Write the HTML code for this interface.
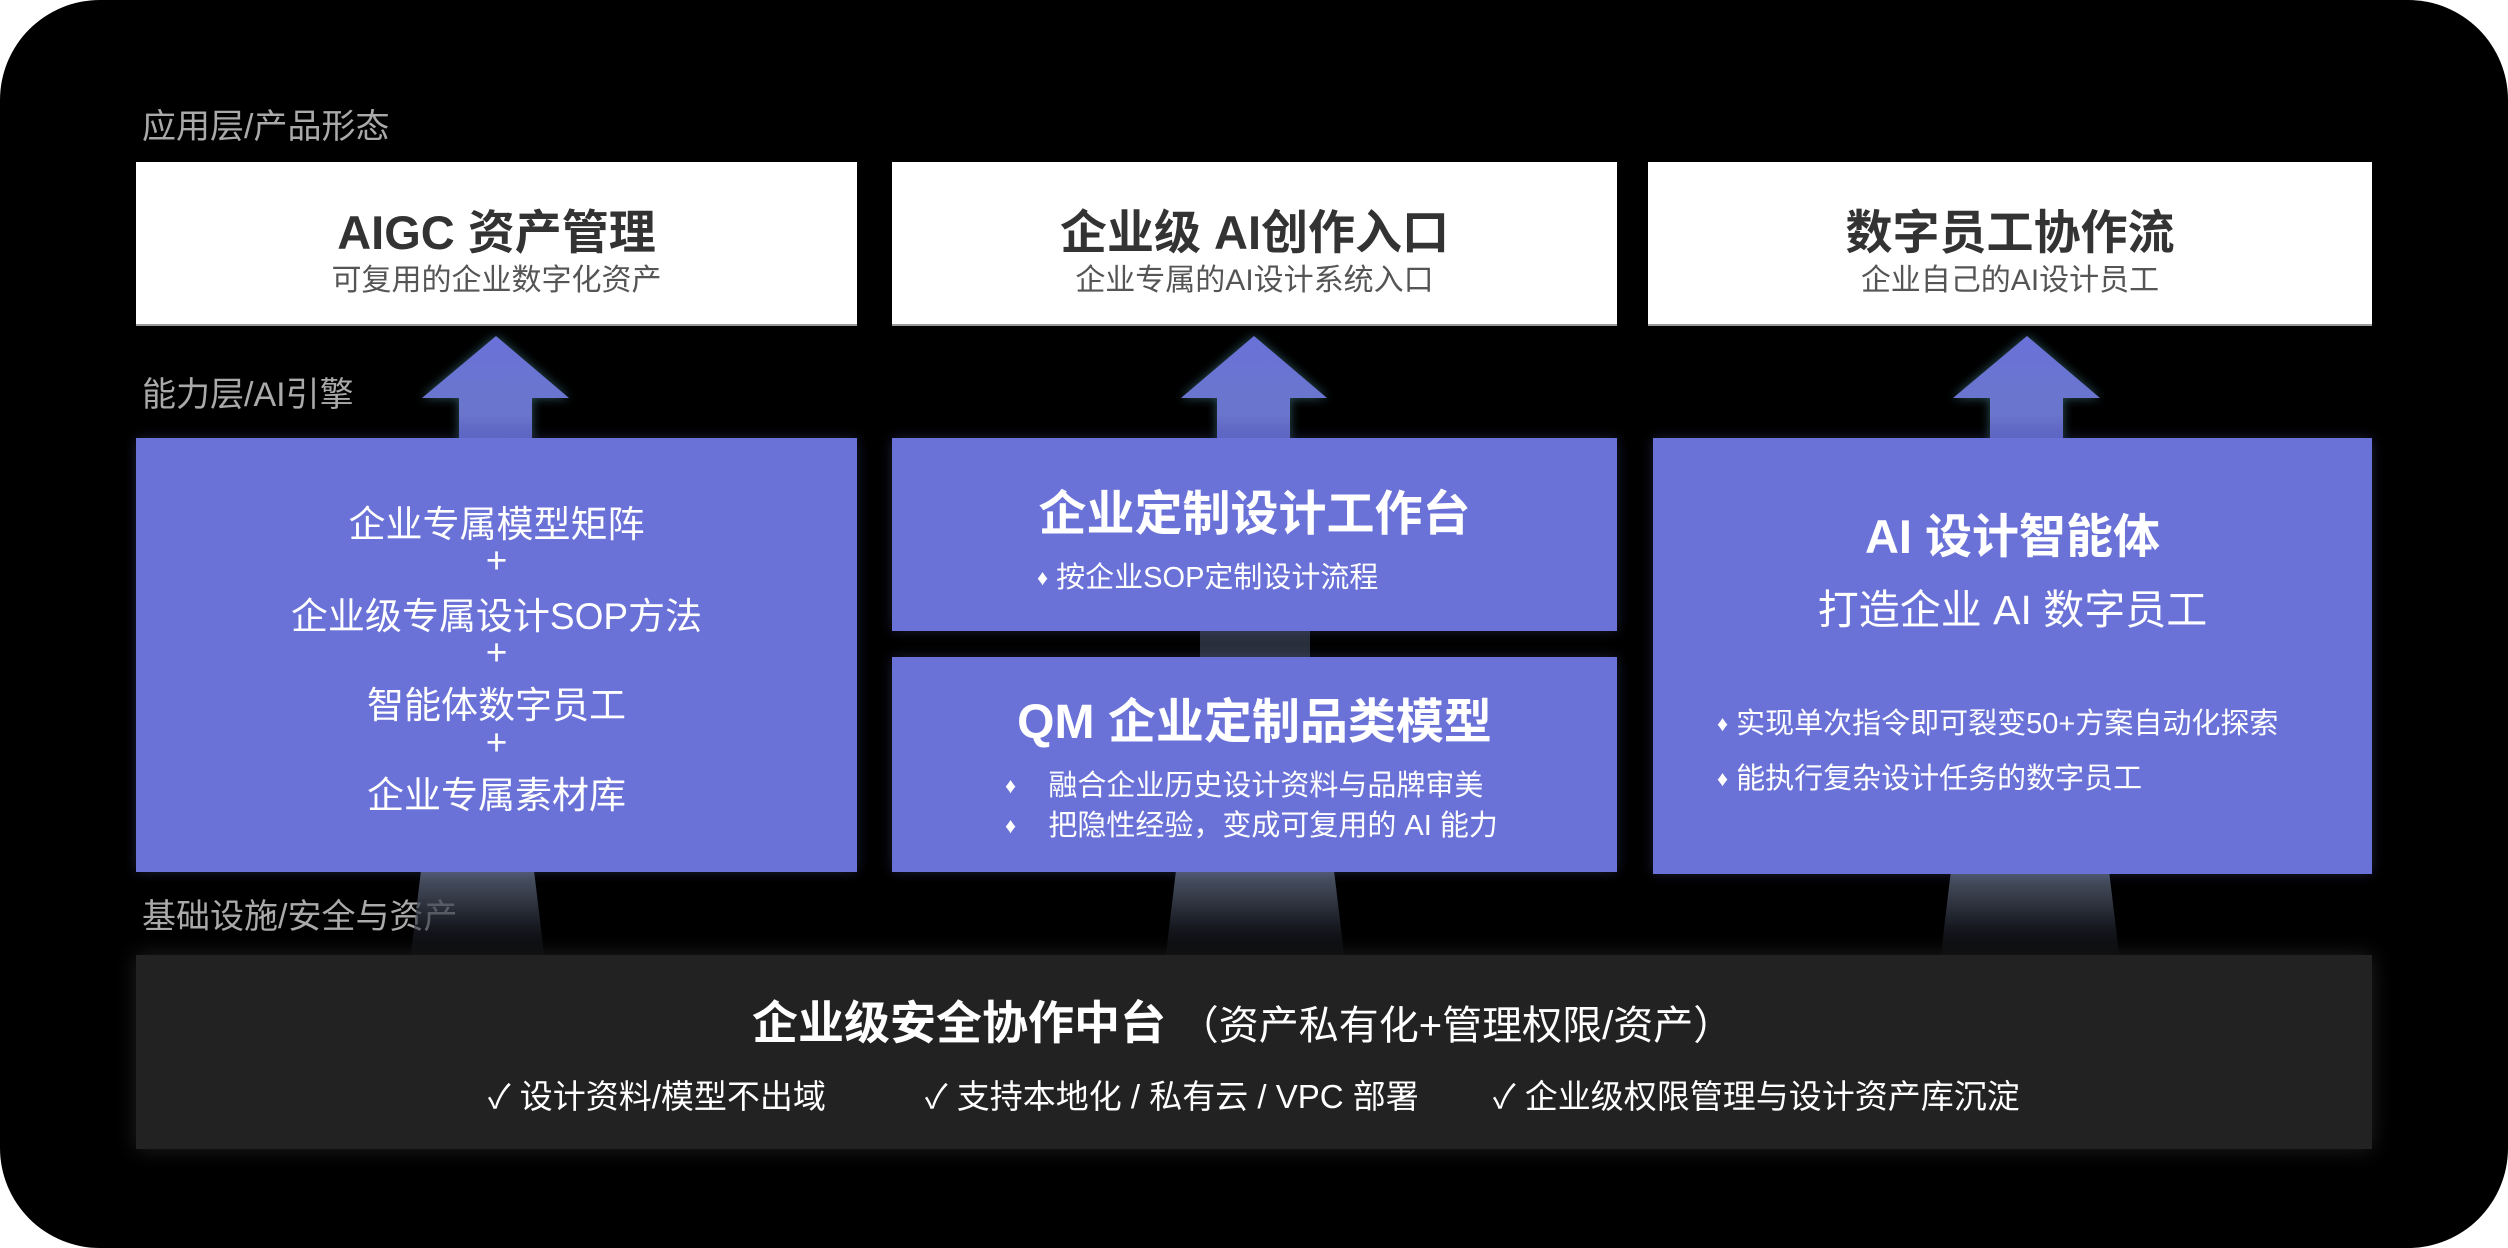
<!DOCTYPE html>
<html><head><meta charset="utf-8"><style>
*{margin:0;padding:0;box-sizing:border-box}
html,body{width:2508px;height:1248px;background:#fff;overflow:hidden}
body{font-family:"Liberation Sans","Noto Sans CJK SC",sans-serif}
#card{position:absolute;left:0;top:0;width:2508px;height:1248px;background:#000;border-radius:100px;overflow:hidden}
.a{position:absolute}
.lbl{position:absolute;left:142px;font-size:34px;color:#aaa;line-height:38px;white-space:nowrap}
.wb{position:absolute;top:162px;height:164px;background:#fff;border-bottom:2px solid #999}
.wt{position:absolute;left:0;right:0;text-align:center;white-space:nowrap}
.pb{position:absolute;background:#6a72d8;box-shadow:0 0 12px rgba(106,114,216,0.25)}
.c{position:absolute;left:0;right:0;text-align:center;color:#fff;white-space:nowrap}
.t{position:absolute;color:#fff;white-space:nowrap}
.d{font-size:0.75em;vertical-align:0.1em}
.shaft{position:absolute;background:linear-gradient(#4d5668,rgba(40,44,55,0.6) 60%,rgba(0,0,0,0))}
</style></head><body>
<div id="card">
<div class="lbl" style="top:108px">应用层/产品形态</div>
<div class="lbl" style="top:376px">能力层/AI引擎</div>
<div class="lbl" style="top:898px">基础设施/安全与资产</div>

<div class="shaft" style="left:410px;top:872px;width:135px;height:90px;clip-path:polygon(8% 0,92% 0,100% 100%,0 100%)"></div>
<div class="shaft" style="left:1165px;top:872px;width:180px;height:90px;clip-path:polygon(6% 0,94% 0,100% 100%,0 100%)"></div>
<div class="shaft" style="left:1940px;top:872px;width:180px;height:90px;clip-path:polygon(6% 0,94% 0,100% 100%,0 100%)"></div>
<div class="a" style="left:1200px;top:630px;width:110px;height:28px;background:#2a2f3c"></div>

<svg class="a" style="left:0;top:0" width="2508" height="450">
<defs><linearGradient id="g" x1="0" y1="0" x2="0" y2="1"><stop offset="0" stop-color="#6a72d8"/><stop offset="0.75" stop-color="#6b75cc"/><stop offset="1" stop-color="#5a63c0"/></linearGradient>
<filter id="gl"><feDropShadow dx="0" dy="0" stdDeviation="5" flood-color="#4a8a9a" flood-opacity="0.6"/></filter></defs>
<g fill="url(#g)" filter="url(#gl)">
<polygon points="496,336 569,398 532,398 532,440 459,440 459,398 422,398"/>
<polygon points="1254,336 1327,398 1290,398 1290,440 1217,440 1217,398 1181,398"/>
<polygon points="2027,336 2100,398 2063,398 2063,440 1990,440 1990,398 1953,398"/>
</g></svg>

<div class="wb" style="left:136px;width:721px">
<div class="wt" style="top:32px;font-size:47px;font-weight:bold;color:#333">AIGC 资产管理</div>
<div class="wt" style="top:93px;font-size:30px;color:#555">可复用的企业数字化资产</div></div>
<div class="wb" style="left:892px;width:725px">
<div class="wt" style="top:32px;font-size:47px;font-weight:bold;color:#333">企业级 AI创作入口</div>
<div class="wt" style="top:93px;font-size:30px;color:#555">企业专属的AI设计系统入口</div></div>
<div class="wb" style="left:1648px;width:724px">
<div class="wt" style="top:32px;font-size:47px;font-weight:bold;color:#333">数字员工协作流</div>
<div class="wt" style="top:93px;font-size:30px;color:#555">企业自己的AI设计员工</div></div>

<div class="pb" style="left:136px;top:438px;width:721px;height:434px;font-size:37px">
<div class="c" style="top:56px">企业专属模型矩阵</div>
<div class="c" style="top:102px">+</div>
<div class="c" style="top:148px">企业级专属设计SOP方法</div>
<div class="c" style="top:194px">+</div>
<div class="c" style="top:237px">智能体数字员工</div>
<div class="c" style="top:284px">+</div>
<div class="c" style="top:327px">企业专属素材库</div>
</div>
<div class="pb" style="left:892px;top:438px;width:725px;height:193px">
<div class="c" style="top:36px;font-size:48px;font-weight:bold">企业定制设计工作台</div>
<div class="t" style="left:145px;top:116px;font-size:29px"><span class="d">♦</span> 按企业SOP定制设计流程</div>
</div>
<div class="pb" style="left:892px;top:657px;width:725px;height:215px">
<div class="c" style="top:25px;font-size:48px;font-weight:bold">QM 企业定制品类模型</div>
<div class="t" style="left:113px;top:105px;font-size:29px"><span class="d">♦</span>&nbsp;&nbsp;&nbsp; 融合企业历史设计资料与品牌审美</div>
<div class="t" style="left:113px;top:145px;font-size:29px"><span class="d">♦</span>&nbsp;&nbsp;&nbsp; 把隐性经验，变成可复用的 AI 能力</div>
</div>
<div class="pb" style="left:1653px;top:438px;width:719px;height:436px">
<div class="c" style="top:60px;font-size:47px;font-weight:bold">AI 设计智能体</div>
<div class="c" style="top:138px;font-size:41px">打造企业 AI 数字员工</div>
<div class="t" style="left:64px;top:262px;font-size:29px"><span class="d">♦</span> 实现单次指令即可裂变50+方案自动化探索</div>
<div class="t" style="left:64px;top:317px;font-size:29px"><span class="d">♦</span> 能执行复杂设计任务的数字员工</div>
</div>

<div class="a" style="left:136px;top:955px;width:2236px;height:194px;background:#222;box-shadow:0 0 20px rgba(40,40,40,0.8)">
<div class="t" style="left:616px;top:32px;font-size:46px;font-weight:bold">企业级安全协作中台 <span style="font-weight:normal;font-size:40px">（资产私有化+管理权限/资产）</span></div>
<div class="t" style="left:352px;top:115px;font-size:33px">✓ 设计资料/模型不出域</div>
<div class="t" style="left:789px;top:115px;font-size:33px">✓ 支持本地化 / 私有云 / VPC 部署</div>
<div class="t" style="left:1357px;top:115px;font-size:33px">✓ 企业级权限管理与设计资产库沉淀</div>
</div>
</div>
</body></html>
